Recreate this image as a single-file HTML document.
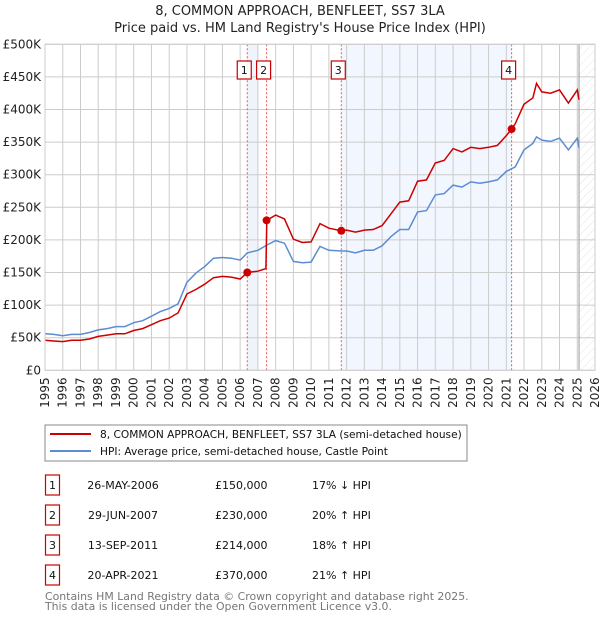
<!DOCTYPE html>
<html><head><meta charset="utf-8"><style>
body{margin:0;background:#fff;font-family:"DejaVu Sans","Liberation Sans",sans-serif;}
svg text{font-family:"DejaVu Sans","Liberation Sans",sans-serif;}
</style></head><body>
<svg id="chart" width="600" height="620" xmlns="http://www.w3.org/2000/svg">
<defs><pattern id="hatch" width="6" height="6" patternUnits="userSpaceOnUse" patternTransform="rotate(45)"><line x1="0" y1="0" x2="0" y2="6" stroke="#ddd" stroke-width="0.8"/></pattern></defs>
<text x="300" y="15" text-anchor="middle" font-size="13" fill="#222">8, COMMON APPROACH, BENFLEET, SS7 3LA</text>
<text x="300" y="32" text-anchor="middle" font-size="13" fill="#222">Price paid vs. HM Land Registry's House Price Index (HPI)</text>
<g id="plot"></g>
<rect x="45" y="425" width="422" height="36" fill="#fff" stroke="#888"/>
<line x1="50" y1="434" x2="91" y2="434" stroke="#cc0000" stroke-width="2"/>
<text x="100" y="438" font-size="10.6" fill="#111">8, COMMON APPROACH, BENFLEET, SS7 3LA (semi-detached house)</text>
<line x1="50" y1="451" x2="91" y2="451" stroke="#5b8dd0" stroke-width="2"/>
<text x="100" y="455" font-size="10.6" fill="#111">HPI: Average price, semi-detached house, Castle Point</text>
<g id="table" font-size="11" fill="#111"></g>
<text x="45" y="600" font-size="10.9" fill="#777">Contains HM Land Registry data © Crown copyright and database right 2025.</text>
<text x="45" y="610" font-size="10.9" fill="#777">This data is licensed under the Open Government Licence v3.0.</text>
</svg>
<script>
const hpiYears=[1995,1995.5,1996,1996.5,1997,1997.5,1998,1998.5,1999,1999.5,2000,2000.5,2001,2001.5,2002,2002.5,2003,2003.5,2004,2004.5,2005,2005.5,2006,2006.4,2007,2007.5,2008,2008.5,2009,2009.5,2010,2010.5,2011,2011.7,2012,2012.5,2013,2013.5,2014,2014.5,2015,2015.5,2016,2016.5,2017,2017.5,2018,2018.5,2019,2019.5,2020,2020.5,2021,2021.5,2022,2022.5,2022.7,2023,2023.5,2024,2024.5,2025,2025.1];
const hpiValues=[56,55,53,55,55,58,62,64,67,67,73,76,83,90,95,102,135,149,159,172,173,172,169,180,184,192,199,195,167,165,166,190,184,183,183,180,184,184,191,205,216,216,243,245,269,271,284,281,289,287,289,292,305,312,338,348,358,353,351,356,338,356,341];
const priceYears=[1995,1995.5,1996,1996.5,1997,1997.5,1998,1998.5,1999,1999.5,2000,2000.5,2001,2001.5,2002,2002.5,2003,2003.5,2004,2004.5,2005,2005.5,2006,2006.4,2007,2007.45,2007.5,2008,2008.5,2009,2009.5,2010,2010.5,2011,2011.7,2012,2012.5,2013,2013.5,2014,2014.5,2015,2015.5,2016,2016.5,2017,2017.5,2018,2018.5,2019,2019.5,2020,2020.5,2021,2021.3,2021.5,2022,2022.5,2022.7,2023,2023.5,2024,2024.5,2025,2025.1];
const priceValues=[46,45,44,46,46,48,52,54,56,56,61,64,70,76,80,88,117,124,132,142,144,143,140,150,152,156,230,238,232,201,196,197,225,218,214,215,212,215,216,222,240,258,260,290,292,318,322,340,335,342,340,342,345,360,370,378,408,418,440,427,425,430,410,430,415];
const saleYears=[2006.4,2007.49,2011.7,2021.3];
const saleValues=[150,230,214,370];
const saleLabels=["1","2","3","4"];
const saleDates=["26-MAY-2006","29-JUN-2007","13-SEP-2011","20-APR-2021"];
const salePrices=["£150,000","£230,000","£214,000","£370,000"];
const saleHpi=["17% ↓ HPI","20% ↑ HPI","18% ↑ HPI","21% ↑ HPI"];
const yTicks=[0,50,100,150,200,250,300,350,400,450,500];
const yTickLabels=["£0","£50K","£100K","£150K","£200K","£250K","£300K","£350K","£400K","£450K","£500K"];
const xTicks=[1995,1996,1997,1998,1999,2000,2001,2002,2003,2004,2005,2006,2007,2008,2009,2010,2011,2012,2013,2014,2015,2016,2017,2018,2019,2020,2021,2022,2023,2024,2025,2026];

const X0=45,X1=595,Y0=370.3,Y1=44.3;
const xs=y=>X0+(y-1995)/(2026-1995)*(X1-X0);
const ys=v=>Y0-v/500*(Y0-Y1);
const NS="http://www.w3.org/2000/svg";
const plot=document.getElementById('plot');
function mk(tag,attrs,parent){const e=document.createElementNS(NS,tag);for(const k in attrs)e.setAttribute(k,attrs[k]);(parent||plot).appendChild(e);return e;}

let r;
r=mk('rect',{x:xs(saleYears[0]),y:Y1,width:xs(2007.0)-xs(saleYears[0]),height:Y0-Y1,fill:'#eef3fc'});


r=mk('rect',{x:xs(saleYears[2]),y:Y1,width:xs(saleYears[3])-xs(saleYears[2]),height:Y0-Y1,fill:'#f2f6fe'});


r=mk('rect',{x:xs(2025.1),y:Y1,width:X1-xs(2025.1),height:Y0-Y1,fill:'url(#hatch)'});



yTicks.forEach((t,i)=>{
  const l=mk('line',{x1:X0,x2:X1,y1:ys(t),y2:ys(t),stroke:'#ccc','stroke-width':1});
  
  
  const tx=mk('text',{x:X0-4,y:ys(t)+4,'text-anchor':'end','font-size':12,fill:'#222'});
  tx.textContent=yTickLabels[i];
  
  
});
xTicks.forEach(t=>{
  const l=mk('line',{x1:xs(t),x2:xs(t),y1:Y1,y2:Y0,stroke:'#ccc','stroke-width':1});
  
  
  const tx=mk('text',{x:0,y:0,'text-anchor':'end','font-size':12,fill:'#222',transform:`translate(${xs(t)+4},${Y0+7}) rotate(-90)`});
  tx.textContent=t;
  
  
});
r=mk('line',{x1:xs(2025.1),x2:xs(2025.1),y1:Y1,y2:Y0,stroke:'#999','stroke-width':1});



saleYears.forEach((s,i)=>{
  const l=mk('line',{x1:xs(s),x2:xs(s),y1:Y1,y2:Y0,stroke:'#ee5555','stroke-width':1,'stroke-dasharray':'2,2'});
  
  
  const b=mk('rect',{x:xs(s)-10,y:61,width:14,height:18,fill:'#fff',stroke:'#cc0000','stroke-width':1.2});
  
  
  const t=mk('text',{x:xs(s)-3,y:74,'text-anchor':'middle','font-size':11,fill:'#111'});
  t.textContent=saleLabels[i];
  
  
});

let p=mk('path',{d:hpiYears.map((y,i)=>(i?'L':'M')+xs(y).toFixed(1)+','+ys(hpiValues[i]).toFixed(1)).join(''),fill:'none',stroke:'#5b8dd0','stroke-width':1.5});


p=mk('path',{d:priceYears.map((y,i)=>(i?'L':'M')+xs(y).toFixed(1)+','+ys(priceValues[i]).toFixed(1)).join(''),fill:'none',stroke:'#cc0000','stroke-width':1.5});


saleYears.forEach((s,i)=>{
  const c=mk('circle',{cx:xs(s),cy:ys(saleValues[i]),r:4,fill:'#cc0000'});
  
  
});
r=mk('rect',{x:X0,y:Y1,width:X1-X0,height:Y0-Y1,fill:'none',stroke:'#ccc'});



const tb=document.getElementById('table');
saleLabels.forEach((lab,i)=>{
  const cy=485+i*30;
  const b=mk('rect',{x:45.5,y:cy-10,width:14,height:20,fill:'#fff',stroke:'#cc0000','stroke-width':1.2},tb);
  
  
  const vals=[[lab,52.5,'middle'],[saleDates[i],123,'middle'],[salePrices[i],215,'start'],[saleHpi[i],312,'start']];
  const names=['table-index','table-date','table-price','table-hpi-diff'];
  vals.forEach((v,j)=>{
    const t=mk('text',{x:v[1],y:cy+4,'text-anchor':v[2]},tb);
    t.textContent=v[0];
    
    
  });
});
</script>
</body></html>
